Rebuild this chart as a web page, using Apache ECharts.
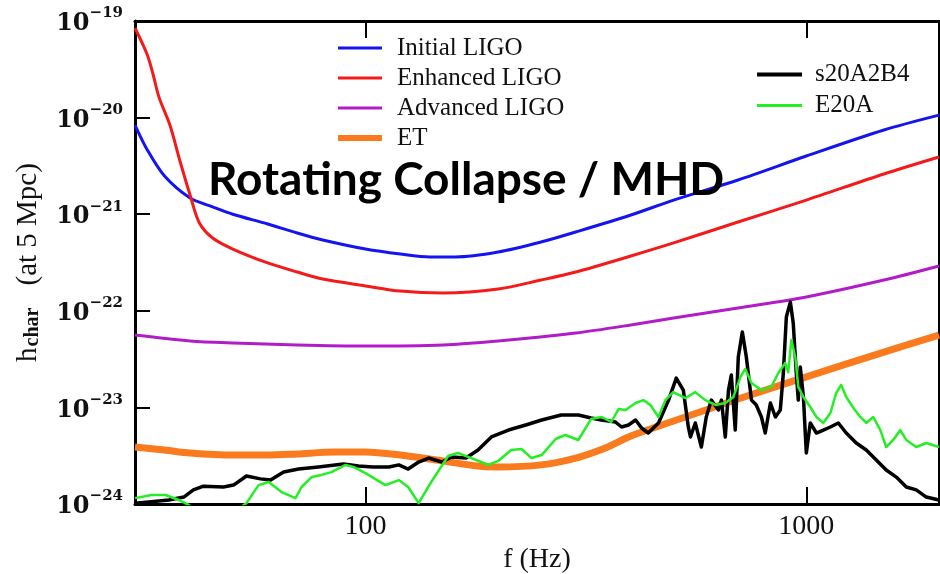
<!DOCTYPE html>
<html>
<head>
<meta charset="utf-8">
<script src="https://cdn.jsdelivr.net/npm/echarts@6/dist/echarts.min.js"></script>
<style>
  html, body { margin: 0; padding: 0; background: #fff; }
  #chart { width: 940px; height: 574px; }
</style>
</head>
<body>
<div id="chart"></div>
<script>
// Detector sensitivity curves, h_char at 5 Mpc versus frequency (Hz)
const freqInitial = [30, 32, 35, 40, 45, 50, 60, 70, 80, 100, 120, 140, 160, 200, 250, 300, 400, 500, 700, 1000, 1500, 2000];
const hInitial = [8.38e-21, 4.62e-21, 2.48e-21, 1.47e-21, 1.19e-21, 1.00e-21, 7.92e-22, 6.38e-22, 5.41e-22, 4.36e-22, 3.87e-22, 3.61e-22, 3.61e-22, 4.06e-22, 5.15e-22, 6.55e-22, 9.81e-22, 1.40e-21, 2.26e-21, 4.00e-21, 7.44e-21, 1.06e-20];

const freqEnhanced = [30, 32, 33, 34, 36, 38, 40, 42, 45, 50, 60, 70, 80, 100, 120, 150, 200, 250, 300, 400, 500, 700, 1000, 1500, 2000];
const hEnhanced = [8.46e-20, 4.45e-20, 2.76e-20, 1.63e-20, 8.38e-21, 3.47e-21, 1.58e-21, 8.11e-22, 5.67e-22, 4.36e-22, 3.13e-22, 2.52e-22, 2.13e-22, 1.81e-22, 1.60e-22, 1.53e-22, 1.68e-22, 2.08e-22, 2.52e-22, 3.69e-22, 5.04e-22, 8.30e-22, 1.40e-21, 2.61e-21, 3.91e-21];

const freqAdvanced = [30, 40, 50, 70, 100, 150, 200, 300, 400, 500, 700, 1000, 1500, 2000];
const hAdvanced = [5.61e-23, 4.87e-23, 4.64e-23, 4.43e-23, 4.32e-23, 4.43e-23, 4.87e-23, 5.89e-23, 7.13e-23, 8.42e-23, 1.07e-22, 1.39e-22, 2.08e-22, 2.91e-22];

const freqET = [30, 35, 40, 50, 60, 70, 85, 100, 120, 150, 180, 200, 250, 300, 350, 400, 500, 700, 1000, 1500, 2000];
const hET = [3.89e-24, 3.62e-24, 3.37e-24, 3.21e-24, 3.21e-24, 3.30e-24, 3.45e-24, 3.45e-24, 3.21e-24, 2.79e-24, 2.47e-24, 2.42e-24, 2.54e-24, 2.99e-24, 3.80e-24, 5.06e-24, 7.23e-24, 1.22e-23, 2.07e-23, 3.74e-23, 5.61e-23];

// Simulated signal spectra
const freqS20 = [30, 32.2, 35.8, 38.7, 40.7, 42.9, 47.6, 50.2, 53.7, 57.8, 60.9, 65.2, 70.5, 78.2, 89.1, 96.4, 104, 113, 119, 125, 132, 139, 149, 157, 169, 180, 193, 211, 231, 251, 278, 304, 325, 343, 369, 381, 395, 410, 423, 438, 462, 487, 507, 526, 540, 546, 560, 578, 593, 609, 632, 642, 655, 666, 676, 690, 701, 716, 731, 751, 770, 791, 807, 829, 851, 873, 887, 901, 920, 934, 949, 959, 969, 985, 1000, 1021, 1054, 1093, 1134, 1182, 1232, 1298, 1368, 1441, 1518, 1600, 1686, 1776, 1871, 2000];
const hS20 = [1.02e-24, 1.05e-24, 1.10e-24, 1.18e-24, 1.40e-24, 1.53e-24, 1.50e-24, 1.57e-24, 1.95e-24, 1.82e-24, 1.77e-24, 2.14e-24, 2.30e-24, 2.42e-24, 2.59e-24, 2.47e-24, 2.42e-24, 2.42e-24, 2.54e-24, 2.30e-24, 2.72e-24, 2.99e-24, 2.72e-24, 3.07e-24, 2.99e-24, 3.62e-24, 4.94e-24, 5.83e-24, 6.58e-24, 7.41e-24, 8.34e-24, 8.34e-24, 7.77e-24, 7.41e-24, 7.06e-24, 6.27e-24, 6.58e-24, 7.41e-24, 6.12e-24, 5.43e-24, 6.90e-24, 1.19e-23, 2.01e-23, 1.51e-23, 6.27e-24, 4.94e-24, 6.90e-24, 3.89e-24, 7.96e-24, 1.19e-23, 9.40e-24, 1.19e-23, 4.94e-24, 1.51e-23, 2.16e-23, 5.83e-24, 3.33e-23, 6.04e-23, 3.33e-23, 1.19e-23, 1.06e-23, 7.96e-24, 5.43e-24, 1.11e-23, 7.96e-24, 9.40e-24, 2.27e-23, 8.63e-23, 1.23e-22, 7.48e-23, 2.27e-23, 1.19e-23, 2.62e-23, 1.28e-23, 3.37e-24, 6.90e-24, 5.43e-24, 5.83e-24, 6.27e-24, 6.90e-24, 5.43e-24, 4.28e-24, 3.62e-24, 2.85e-24, 2.25e-24, 1.90e-24, 1.50e-24, 1.40e-24, 1.18e-24, 1.10e-24];

const freqE20A = [30, 32.7, 35.2, 37.7, 39.7, 45.2, 53.7, 57.2, 60.3, 64.5, 69.4, 71.6, 75.5, 79.5, 83.7, 90.1, 93.9, 100, 111, 119, 125, 132, 141, 154, 162, 171, 183, 190, 200, 214, 226, 238, 251, 270, 284, 304, 325, 343, 361, 375, 389, 410, 427, 443, 462, 479, 499, 532, 560, 590, 622, 655, 683, 709, 727, 751, 791, 833, 864, 896, 910, 925, 944, 959, 985, 1021, 1054, 1093, 1134, 1169, 1200, 1232, 1279, 1326, 1368, 1419, 1472, 1518, 1575, 1634, 1686, 1776, 1871, 2000];
const hE20A = [1.15e-24, 1.24e-24, 1.24e-24, 1.10e-24, 9.77e-25, 6.0e-25, 1.02e-24, 1.57e-24, 1.69e-24, 1.33e-24, 1.15e-24, 1.50e-24, 1.90e-24, 2.00e-24, 2.14e-24, 2.54e-24, 2.42e-24, 2.09e-24, 1.57e-24, 1.77e-24, 1.50e-24, 1.02e-24, 1.69e-24, 3.14e-24, 3.37e-24, 3.07e-24, 2.72e-24, 2.54e-24, 2.79e-24, 3.62e-24, 3.71e-24, 2.99e-24, 3.21e-24, 4.71e-24, 5.18e-24, 4.60e-24, 7.59e-24, 7.96e-24, 7.06e-24, 9.62e-24, 9.40e-24, 1.11e-23, 1.19e-23, 1.06e-23, 7.96e-24, 1.19e-23, 1.44e-23, 1.25e-23, 1.44e-23, 1.19e-23, 1.06e-23, 1.11e-23, 1.28e-23, 2.07e-23, 2.50e-23, 1.79e-23, 1.51e-23, 1.63e-23, 2.27e-23, 2.88e-23, 2.32e-23, 4.99e-23, 3.33e-23, 1.63e-23, 1.28e-23, 1.01e-23, 7.96e-24, 6.90e-24, 8.75e-24, 1.41e-23, 1.71e-23, 1.28e-23, 9.86e-24, 7.96e-24, 6.90e-24, 7.96e-24, 5.83e-24, 3.89e-24, 4.60e-24, 5.83e-24, 4.60e-24, 3.89e-24, 4.28e-24, 3.89e-24];

// Axes. The y axis runs in units of 1e-24 so the log scale keeps full precision;
// tick labels convert back to powers of ten.
const Y_UNIT = 1e-24;
const X_MIN = 30, X_MAX = 2000;
const Y_MIN = 1e-24, Y_MAX = 1e-19;
const xMajorTicks = [100, 1000];

const SERIF = '"Liberation Serif", "DejaVu Serif", serif';

const toY = h => h / Y_UNIT;
function pairs(xs, ys) { return xs.map((x, i) => [x, toY(ys[i])]); }

const chart = echarts.init(document.getElementById('chart'), null, { renderer: 'canvas' });

function lineSeries(name, xs, ys, color, width, smooth, z) {
  return {
    name, type: 'line', data: pairs(xs, ys), symbol: 'none', smooth: smooth,
    lineStyle: { color, width, join: 'round' }, itemStyle: { color },
    z, animation: false
  };
}

const frameLine = { show: true, onZero: false, lineStyle: { color: '#000', width: 3 } };
const xInwardTick = { show: true, inside: true, length: 17, lineStyle: { color: '#000', width: 2 } };
const yInwardTick = { show: true, inside: true, length: 15, lineStyle: { color: '#000', width: 2 } };

const option = {
  animation: false,
  backgroundColor: '#fff',
  title: {
    text: 'Rotating Collapse / MHD',
    left: 203, top: 152,
    textStyle: { fontFamily: 'Lato', fontWeight: 'bold', fontSize: 46, color: '#000' }
  },
  grid: {
    left: 135, right: 1, top: 21, bottom: 70,
    containLabel: false, outerBoundsMode: 'none'
  },
  legend: [
    {
      orient: 'vertical', left: 338, top: 33, itemGap: 0, padding: 0,
      itemWidth: 44, itemHeight: 14,
      itemStyle: { borderWidth: 0 },
      textStyle: { fontFamily: SERIF, fontSize: 25, color: '#111', lineHeight: 30, padding: [0, 0, 0, 10] },
      data: [
        { name: 'Initial LIGO', icon: 'path://M0,0H44V3H0Z' },
        { name: 'Enhanced LIGO', icon: 'path://M0,0H44V3H0Z' },
        { name: 'Advanced LIGO', icon: 'path://M0,0H44V3H0Z' },
        { name: 'ET', icon: 'path://M0,0H44V6H0Z' }
      ]
    },
    {
      orient: 'vertical', left: 757, top: 59, itemGap: 0, padding: 0,
      itemWidth: 45, itemHeight: 14,
      itemStyle: { borderWidth: 0 },
      textStyle: { fontFamily: SERIF, fontSize: 25, color: '#111', lineHeight: 31, padding: [0, 0, 0, 8] },
      data: [
        { name: 's20A2B4', icon: 'path://M0,0H45V4H0Z' },
        { name: 'E20A', icon: 'path://M0,0H45V3H0Z' }
      ]
    }
  ],
  xAxis: [
    {
      type: 'log', logBase: 10, min: X_MIN, max: X_MAX,
      name: 'f (Hz)', nameLocation: 'middle', nameGap: 35,
      nameTextStyle: { fontFamily: SERIF, fontSize: 28, color: '#111' },
      axisLine: frameLine,
      axisTick: xInwardTick,
      splitLine: { show: false },
      axisLabel: {
        margin: 9, fontFamily: SERIF, fontSize: 28, color: '#111',
        formatter: v => {
          const r = xMajorTicks.find(t => Math.abs(t - v) / t < 1e-6);
          return r ? String(r) : '';
        }
      }
    },
    {
      type: 'log', logBase: 10, min: X_MIN, max: X_MAX, position: 'top',
      axisLine: frameLine,
      axisTick: xInwardTick, axisLabel: { show: false }, splitLine: { show: false }
    }
  ],
  yAxis: [
    {
      type: 'log', logBase: 10, min: toY(Y_MIN), max: toY(Y_MAX),
      name: '{h|h}{s|char}{t|(at 5 Mpc)}', nameLocation: 'middle', nameGap: 92, nameRotate: 90,
      nameTextStyle: {
        rich: {
          h: { fontFamily: SERIF, fontSize: 29, color: '#111', verticalAlign: 'bottom', lineHeight: 34 },
          s: { fontFamily: SERIF, fontSize: 20, fontWeight: 'bold', color: '#111', verticalAlign: 'bottom', lineHeight: 26, padding: [0, 22, 0, 1] },
          t: { fontFamily: SERIF, fontSize: 29, color: '#111', verticalAlign: 'bottom', lineHeight: 34 }
        }
      },
      axisLine: frameLine,
      axisTick: yInwardTick,
      splitLine: { show: false },
      axisLabel: {
        margin: 12,
        formatter: v => {
          const e = Math.round(Math.log10(v * Y_UNIT));
          return '{b|10}{e|' + (e < 0 ? '\u2212' : '') + Math.abs(e) + '}';
        },
        rich: {
          b: { fontFamily: '"DejaVu Serif", serif', fontWeight: 'bold', fontSize: 24, color: '#111', verticalAlign: 'bottom', lineHeight: 30 },
          e: { fontFamily: '"DejaVu Serif", serif', fontWeight: 'bold', fontSize: 15, color: '#111', verticalAlign: 'top', lineHeight: 16 }
        }
      }
    },
    {
      type: 'log', logBase: 10, min: toY(Y_MIN), max: toY(Y_MAX), position: 'right',
      axisLine: { show: true, onZero: false, lineStyle: { color: '#000', width: 2 } },
      axisTick: { show: false }, axisLabel: { show: false }, splitLine: { show: false }
    }
  ],
  series: [
    lineSeries('Initial LIGO', freqInitial, hInitial, '#1414f0', 3, 0.3, 3),
    lineSeries('Enhanced LIGO', freqEnhanced, hEnhanced, '#f41a1a', 3, 0.3, 3),
    lineSeries('Advanced LIGO', freqAdvanced, hAdvanced, '#b21cc8', 3, 0.3, 3),
    lineSeries('ET', freqET, hET, '#fa7a1e', 7, 0.3, 3),
    lineSeries('s20A2B4', freqS20, hS20, '#000000', 3.5, false, 4),
    lineSeries('E20A', freqE20A, hE20A, '#24ee24', 2.5, false, 5)
  ]
};

chart.setOption(option);
</script>
</body>
</html>
